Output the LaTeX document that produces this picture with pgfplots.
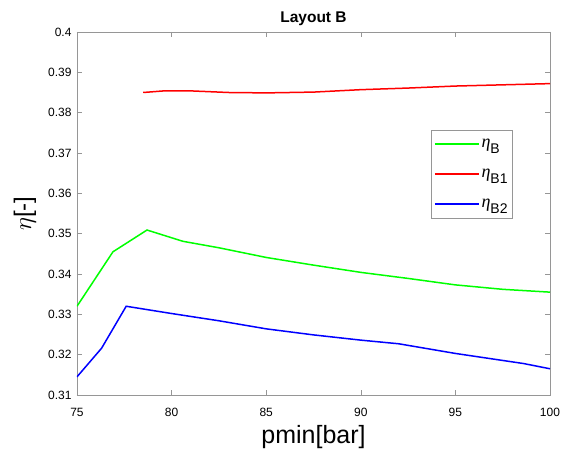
\documentclass[border=0pt]{standalone}
\usepackage{pgfplots}
\pgfplotsset{compat=1.18}
\usepackage{fontspec}
\setmainfont{Liberation Sans}
\setsansfont{Liberation Sans}
\newfontfamily\greekfont{Liberation Serif}
\definecolor{boxgray}{RGB}{150,150,150}
\newcommand{\leta}{{\greekfont\itshape\fontsize{18}{20}\selectfont η}}
\newcommand{\sub}[1]{\raisebox{-6pt}{#1}}
\begin{document}
\begin{tikzpicture}
\begin{axis}[
  name=ax,
  scale only axis,
  width=473pt, height=363pt,
  xmin=75, xmax=100, ymin=0.31, ymax=0.4,
  xtick={75,80,...,100},
  ytick={0.31,0.32,...,0.401},
  yticklabel style={/pgf/number format/fixed,/pgf/number format/precision=2, xshift=-2pt},
  xticklabel style={yshift=-10pt},
  /pgf/number format/assume math mode=true,
  tick label style={font=\fontsize{12}{14}\selectfont},
  axis line style={boxgray, line width=0.6pt},
  major tick style={boxgray, line width=0.6pt},
  tick align=inside,
  major tick length=5pt,
  title={Layout B},
  title style={font=\fontsize{15.5}{17}\selectfont\bfseries,
    at={(axis description cs:0.5,1)}, anchor=base, yshift=3pt},
  xlabel={pmin[bar]},
  ylabel={{\fontsize{27}{28}\selectfont$\eta$}[-]},
  xlabel style={font=\fontsize{25}{28}\selectfont,
    at={([yshift=-49pt]axis description cs:0.5,0)}, anchor=base},
  ylabel style={font=\fontsize{24}{28}\selectfont,
    at={([xshift=-52pt]axis description cs:0,0.5)}, anchor=center},
  legend style={at={(0.748,0.730)}, anchor=north west, draw=boxgray,
    font=\fontsize{14}{16}\selectfont, row sep=16pt, inner xsep=3pt, inner ysep=7pt},
  legend cell align=left,
  legend image code/.code={\draw[#1] (0pt,0pt) -- (44pt,0pt);},
]
\addplot[green, line width=1.5pt] coordinates {
(75,0.3320) (76.9,0.3455) (78.7,0.3509) (80.6,0.3481) (82.5,0.3465)
(85,0.3441) (87.5,0.3422) (90,0.3404) (92.5,0.3389) (95,0.3373)
(97.5,0.3362) (100,0.3355)};
\addlegendentry{\leta\sub{B}}
\addplot[red, line width=1.5pt] coordinates {
(78.5,0.3850) (79.6,0.3854) (81,0.3854) (83,0.3850) (85,0.3849)
(87.5,0.3851) (90,0.3857) (92.5,0.3861) (95,0.3866) (97.5,0.3869) (100,0.3872)};
\addlegendentry{\leta\sub{B1}}
\addplot[blue, line width=1.5pt] coordinates {
(75,0.3145) (76.3,0.3216) (77.6,0.3320) (80,0.3302) (82.5,0.3284)
(85,0.3264) (87.5,0.3249) (90,0.3236) (92,0.3227) (95,0.3203)
(98.6,0.3178) (100,0.3165)};
\addlegendentry{\leta\sub{B2}}
\end{axis}
\pgfresetboundingbox
\path ([shift={(-77pt,-59pt)}]ax.south west) rectangle ([shift={(11pt,32pt)}]ax.north east);
\end{tikzpicture}
\end{document}
